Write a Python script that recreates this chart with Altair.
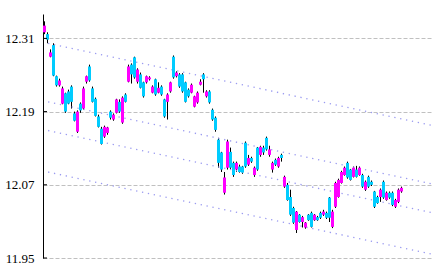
import altair as alt
import pandas as pd

# ---- data ----
opens = [12.320, 12.317, 12.280, 12.299, 12.248, 12.233, 12.203, 12.220, 12.223, 12.231,
         12.187, 12.157, 12.203, 12.195, 12.239, 12.264, 12.228, 12.211, 12.182, 12.162,
         12.149, 12.155, 12.190, 12.177, 12.188, 12.206, 12.172, 12.218, 12.239, 12.267,
         12.279, 12.239, 12.251, 12.238, 12.238, 12.243, 12.221, 12.243, 12.221, 12.231,
         12.210, 12.206, 12.223, 12.280, 12.248, 12.251, 12.251, 12.238, 12.226, 12.221,
         12.198, 12.205, 12.234, 12.251, 12.215, 12.223, 12.193, 12.180, 12.144, 12.123,
         12.057, 12.098, 12.124, 12.106, 12.095, 12.100, 12.100, 12.139, 12.103, 12.114,
         12.086, 12.131, 12.119, 12.131, 12.147, 12.119, 12.095, 12.111, 12.100, 12.119,
         12.067, 12.070, 12.050, 12.032, 11.996, 12.021, 12.009, 12.000, 12.021, 12.024,
         12.012, 12.017, 12.024, 12.021, 12.024, 12.049, 12.001, 12.034, 12.050, 12.073,
         12.086, 12.106, 12.095, 12.083, 12.095, 12.086, 12.086, 12.062, 12.083, 12.075,
         12.059, 12.050, 12.050, 12.075, 12.045, 12.057, 12.057, 12.034, 12.042, 12.059]
closes = [12.331, 12.308, 12.287, 12.249, 12.233, 12.241, 12.228, 12.190, 12.203, 12.206,
          12.175, 12.190, 12.192, 12.228, 12.248, 12.241, 12.206, 12.183, 12.165, 12.137,
          12.165, 12.164, 12.180, 12.185, 12.210, 12.190, 12.213, 12.206, 12.264, 12.251,
          12.246, 12.259, 12.229, 12.215, 12.248, 12.246, 12.231, 12.218, 12.229, 12.218,
          12.182, 12.218, 12.238, 12.246, 12.254, 12.231, 12.223, 12.206, 12.215, 12.234,
          12.215, 12.221, 12.239, 12.243, 12.223, 12.205, 12.177, 12.160, 12.106, 12.095,
          12.082, 12.141, 12.098, 12.086, 12.106, 12.091, 12.090, 12.100, 12.114, 12.108,
          12.098, 12.095, 12.132, 12.123, 12.128, 12.128, 12.106, 12.103, 12.114, 12.114,
          12.083, 12.045, 12.021, 12.008, 12.026, 12.009, 12.017, 12.008, 12.012, 12.001,
          12.021, 12.012, 12.016, 12.026, 12.016, 12.016, 12.026, 12.073, 12.078, 12.091,
          12.098, 12.082, 12.078, 12.098, 12.083, 12.098, 12.067, 12.075, 12.067, 12.070,
          12.034, 12.040, 12.062, 12.049, 12.057, 12.049, 12.037, 12.045, 12.062, 12.065]
highs = [12.338, 12.320, 12.292, 12.302, 12.249, 12.244, 12.231, 12.221, 12.226, 12.233,
         12.190, 12.192, 12.205, 12.231, 12.249, 12.267, 12.231, 12.213, 12.185, 12.165,
         12.167, 12.165, 12.192, 12.187, 12.211, 12.210, 12.215, 12.220, 12.267, 12.269,
         12.280, 12.261, 12.254, 12.239, 12.249, 12.248, 12.233, 12.244, 12.238, 12.233,
         12.211, 12.220, 12.239, 12.282, 12.256, 12.253, 12.253, 12.239, 12.228, 12.236,
         12.216, 12.223, 12.243, 12.253, 12.225, 12.225, 12.195, 12.182, 12.147, 12.124,
         12.091, 12.144, 12.131, 12.108, 12.108, 12.103, 12.101, 12.141, 12.119, 12.116,
         12.100, 12.132, 12.134, 12.134, 12.149, 12.134, 12.108, 12.113, 12.116, 12.121,
         12.085, 12.073, 12.062, 12.034, 12.027, 12.022, 12.019, 12.009, 12.022, 12.026,
         12.022, 12.019, 12.026, 12.029, 12.026, 12.050, 12.029, 12.075, 12.080, 12.093,
         12.100, 12.108, 12.096, 12.100, 12.101, 12.100, 12.088, 12.077, 12.085, 12.077,
         12.060, 12.052, 12.064, 12.077, 12.059, 12.059, 12.059, 12.047, 12.064, 12.067]
lows = [12.317, 12.302, 12.279, 12.248, 12.231, 12.231, 12.202, 12.188, 12.202, 12.195,
        12.174, 12.155, 12.188, 12.193, 12.236, 12.239, 12.205, 12.182, 12.164, 12.136,
        12.147, 12.152, 12.177, 12.175, 12.187, 12.188, 12.170, 12.205, 12.238, 12.236,
        12.244, 12.236, 12.228, 12.213, 12.236, 12.241, 12.220, 12.216, 12.220, 12.216,
        12.180, 12.177, 12.221, 12.244, 12.246, 12.229, 12.221, 12.205, 12.213, 12.220,
        12.197, 12.203, 12.233, 12.221, 12.213, 12.203, 12.175, 12.157, 12.098, 12.091,
        12.054, 12.095, 12.095, 12.083, 12.091, 12.090, 12.088, 12.098, 12.101, 12.106,
        12.083, 12.093, 12.116, 12.119, 12.126, 12.116, 12.090, 12.101, 12.098, 12.108,
        12.065, 12.044, 12.019, 12.006, 11.991, 12.008, 12.000, 11.998, 12.011, 12.000,
        12.011, 12.011, 12.014, 12.019, 12.014, 12.009, 11.999, 12.032, 12.049, 12.072,
        12.085, 12.080, 12.077, 12.082, 12.082, 12.085, 12.065, 12.060, 12.065, 12.068,
        12.032, 12.039, 12.042, 12.047, 12.044, 12.047, 12.035, 12.032, 12.040, 12.057]

tick_values = [11.95, 12.07, 12.19, 12.31]
channel_start_x = 1.2
channel_end_x = 129.5
channel_start = [12.302, 12.206, 12.159, 12.091]
channel_end = [12.167, 12.071, 12.024, 11.956]

# ---- tables ----
df = pd.DataFrame({"i": list(range(len(opens))), "open": opens, "close": closes,
                   "high": highs, "low": lows})
df["dir"] = ["up" if c >= o else "down" for o, c in zip(opens, closes)]

ch_rows = []
for k, (s, e) in enumerate(zip(channel_start, channel_end)):
    ch_rows.append({"line": k, "i": channel_start_x, "v": s})
    ch_rows.append({"line": k, "i": channel_end_x, "v": e})
ch = pd.DataFrame(ch_rows)
ticks = pd.DataFrame({"v": tick_values})

xscale = alt.Scale(domain=[-0.5, 129.5], nice=False, zero=False)
yscale = alt.Scale(domain=[11.95, 12.35], nice=False, zero=False)

yaxis = alt.Axis(values=tick_values, format=".2f", grid=True, gridDash=[4, 2],
                 gridColor="#c0c0c0", gridWidth=1, gridOpacity=1,
                 domain=True, domainColor="black", domainWidth=1,
                 ticks=False, labelPadding=9, labelFontSize=13,
                 labelFont="Liberation Sans Narrow", labelColor="black", title=None)

X = alt.X("i:Q", scale=xscale, axis=None)

wick = alt.Chart(df).mark_rule(color="black", strokeWidth=1).encode(
    x=X,
    y=alt.Y("low:Q", scale=yscale, axis=yaxis),
    y2="high:Q",
)

body = alt.Chart(df).mark_rule(strokeWidth=3).encode(
    x=X,
    y=alt.Y("open:Q", scale=yscale, axis=yaxis),
    y2="close:Q",
    color=alt.Color("dir:N", scale=alt.Scale(domain=["up", "down"],
                                             range=["#ff00ff", "#00ccff"]), legend=None),
)

channel = alt.Chart(ch).mark_line(color="#9a9af0", strokeWidth=1.3,
                                  strokeDash=[1.3, 4.7], clip=True).encode(
    x=X,
    y=alt.Y("v:Q", scale=yscale, axis=yaxis),
    detail="line:N",
)

tickmarks = alt.Chart(ticks).mark_rule(color="black", strokeWidth=1).encode(
    x=alt.value(0), x2=alt.value(4),
    y=alt.Y("v:Q", scale=yscale, axis=yaxis),
)

chart = alt.layer(wick, channel, body, tickmarks).properties(
    width=390, height=244,
    autosize=alt.AutoSizeParams(type="none"),
    padding={"left": 43, "top": 14, "right": 0, "bottom": 14},
    background="white",
).configure_view(stroke=None)

chart.save("out.html", embed_options={"renderer": "svg", "actions": False})
